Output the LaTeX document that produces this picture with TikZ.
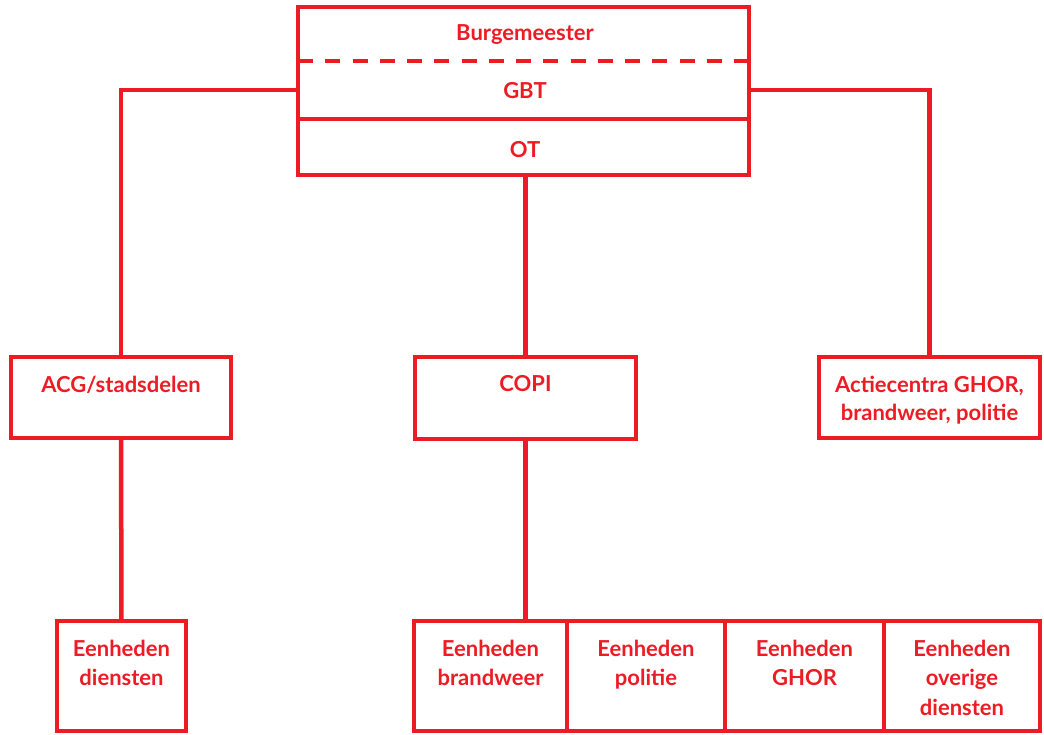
\documentclass[tikz,border=0pt]{standalone}
\usepackage{fontspec}
\setmainfont{Lato}
\definecolor{orgred}{RGB}{237,28,36}
\begin{document}
\begin{tikzpicture}[x=1pt,y=-1pt,
  box/.style={draw=orgred,line width=4.5pt,inner sep=0pt,outer sep=0pt,fill=white},
  lbl/.style={text=orgred,font=\fontsize{22}{29.5}\selectfont\bfseries,align=center,inner sep=0pt,anchor=base},
  conn/.style={draw=orgred,line width=4.5pt}]
\useasboundingbox (0,0) rectangle (1044,734);
% top box
\node[box,minimum width=451pt,minimum height=168pt] (top) at (523.5,91) {};
\coordinate (dashl) at (298,61);
\coordinate (dashr) at (749,61);
\coordinate (soll) at (298,119);
\coordinate (solr) at (749,119);
\coordinate (gbtl) at (298,90);
\coordinate (gbtr) at (749,90);
\draw[conn,dash pattern=on 15pt off 12.25pt] (dashl) -- (dashr);
\draw[conn] (soll) -- (solr);
\node[lbl] (bm) at (525,40.5) {Burgemeester};
\node[lbl] (gbt) at (525,98) {GBT};
\node[lbl] (ot) at (525,157) {OT};
% middle boxes
\node[box,minimum width=220pt,minimum height=81pt] (acg) at (121,397.5) {};
\node[box,minimum width=221pt,minimum height=82pt] (copi) at (525.5,398) {};
\node[box,minimum width=221pt,minimum height=81pt] (act) at (929.5,397.5) {};
\node[lbl] (acgt) at (acg.center |- 0,392) {ACG/stadsdelen};
\node[lbl] (copit) at (copi.center |- 0,391) {COPI};
\node[lbl] (actt) at (act.center |- 0,392) {Actiecentra GHOR,};
\node[lbl] (actt2) at (act.center |- 0,420) {brandweer, politie};
% bottom boxes
\node[box,minimum width=129pt,minimum height=110pt] (dien) at (121.5,676) {};
\node[box,minimum width=153pt,minimum height=110pt] (b1) at (490.5,676) {};
\node[box,minimum width=158pt,minimum height=110pt] (b2) at (646,676) {};
\node[box,minimum width=159pt,minimum height=110pt] (b3) at (804.5,676) {};
\node[box,minimum width=156pt,minimum height=110pt] (b4) at (962,676) {};
\node[lbl] (dient) at (dien.center |- 0,656) {Eenheden};
\node[lbl] (dient2) at (dien.center |- 0,685.5) {diensten};
\node[lbl] (b1t) at (b1.center |- 0,656) {Eenheden};
\node[lbl] (b1t2) at (b1.center |- 0,685.5) {brandweer};
\node[lbl] (b2t) at (b2.center |- 0,656) {Eenheden};
\node[lbl] (b2t2) at (b2.center |- 0,685.5) {politie};
\node[lbl] (b3t) at (b3.center |- 0,656) {Eenheden};
\node[lbl] (b3t2) at (b3.center |- 0,685.5) {GHOR};
\node[lbl] (b4t) at (b4.center |- 0,656) {Eenheden};
\node[lbl] (b4t2) at (b4.center |- 0,685.5) {overige};
\node[lbl] (b4t3) at (b4.center |- 0,715) {diensten};
% connectors
\draw[conn] (gbtl) -| (acg.north);
\draw[conn] (gbtr) -| (act.north);
\draw[conn] (top.south -| copi.north) -- (copi.north);
\draw[conn] (copi.south) -- (copi.south |- b1.north);
\draw[conn] (acg.south) -- (dien.north);
\end{tikzpicture}
\end{document}
